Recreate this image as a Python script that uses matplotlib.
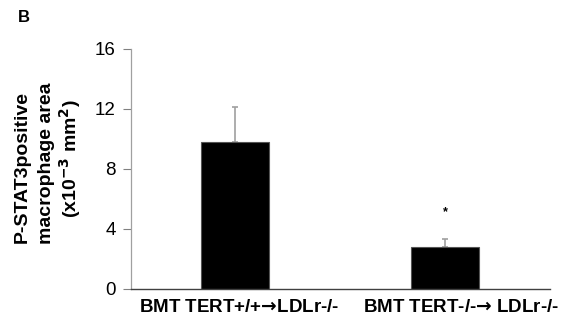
import numpy as np
import matplotlib.pyplot as plt
import matplotlib.transforms as mtransforms

plt.rcParams['font.family'] = ['Liberation Sans', 'DejaVu Sans']
plt.rcParams['mathtext.fontset'] = 'custom'
plt.rcParams['mathtext.rm'] = 'DejaVu Sans:bold'
plt.rcParams['mathtext.bf'] = 'DejaVu Sans:bold'

# --- data ---
groups = ["BMT TERT+/+$\u2192$LDLr-/-", "BMT TERT-/-$\u2192$ LDLr-/-"]
means = [9.8, 2.8]
errs = [2.35, 0.55]
star_y = [None, 5.1]

fig = plt.figure(figsize=(5.62, 3.22), dpi=100)
ax = fig.add_axes([0.233, 0.1025, 0.746, 0.7455])

x = np.arange(len(groups))
ax.bar(x, means, width=0.32, color='black', edgecolor='#555555', linewidth=0.8, zorder=2)
ax.errorbar(x, means, yerr=[np.zeros(len(errs)), errs], fmt='none',
            ecolor='#a0a0a0', elinewidth=1.2, capsize=2.5, capthick=1.2, zorder=1)
for xi, sy in zip(x, star_y):
    if sy is not None:
        ax.text(xi, sy, '*', ha='center', va='center', fontsize=9, fontweight='bold')

ax.set_xlim(-0.495, 1.5)
ax.set_ylim(0, 16)
ax.set_yticks([0, 4, 8, 12, 16])
ax.tick_params(axis='y', labelsize=13.5, length=6, width=0.8, color='#808080', pad=5)
ax.tick_params(axis='x', length=0, labelsize=13.5, pad=7)
ax.set_xticks(x)
ax.set_xticklabels(groups, fontweight='bold')
# nudge labels right a little, like the original
for lab, dx in zip(ax.get_xticklabels(), [4, 16]):
    lab.set_transform(lab.get_transform() +
                      mtransforms.ScaledTranslation(dx / 100, 0, fig.dpi_scale_trans))
for s in ['top', 'right']:
    ax.spines[s].set_visible(False)
ax.spines['left'].set_color('#a0a0a0')
ax.spines['left'].set_linewidth(0.9)
ax.spines['bottom'].set_color('#404040')
ax.spines['bottom'].set_linewidth(1.0)

# y label in three lines
fig.text(22 / 562, 1 - 167 / 322, 'P-STAT3positive', rotation=90, ha='center', va='center',
         fontsize=14, fontweight='bold')
fig.text(47 / 562, 1 - 163 / 322, 'macrophage area', rotation=90, ha='center', va='center',
         fontsize=14, fontweight='bold')
fig.text(70 / 562, 1 - 159 / 322, r'(x10$^{-3}$ mm$^{2}$)', rotation=90, ha='center', va='center',
         fontsize=14, fontweight='bold')

fig.text(18 / 562, 1 - 18 / 322, 'B', ha='left', va='center', fontsize=12, fontweight='bold')

fig.savefig('out.png', dpi=100)
